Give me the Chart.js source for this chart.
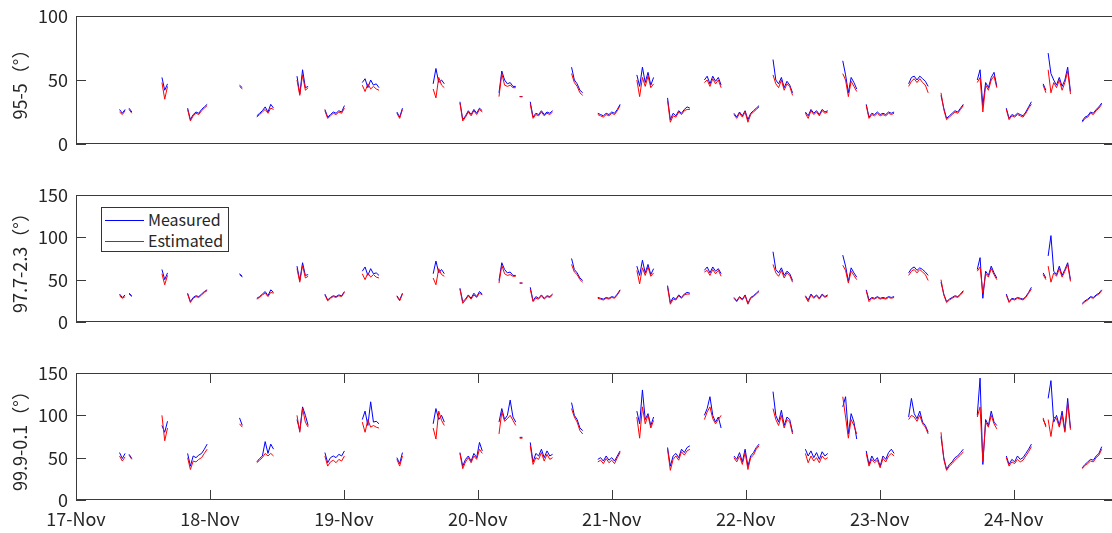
<!DOCTYPE html>
<html>
<head>
<meta charset="utf-8">
<script src="https://cdn.jsdelivr.net/npm/chart.js@4.4.1/dist/chart.umd.min.js"></script>
<style>
  html, body { margin: 0; padding: 0; background: #fff; }
  #wrap { position: relative; width: 1112px; height: 533px; overflow: hidden; }
  .panel { position: absolute; left: 0; width: 1114px; }
  #legend {
    position: absolute; left: 101px; top: 207px; width: 128px; height: 45px;
    box-sizing: border-box; border: 1px solid #333; background: #fff;
    font-family: "Noto Sans CJK JP", "Noto Sans", sans-serif; font-size: 16px; color: #262626;
  }
  #legend .row { position: absolute; left: 0; height: 20px; line-height: 20px; }
  #legend .ln { position: absolute; left: 3px; top: 10px; width: 39px; height: 1px; }
  #legend .tx { position: absolute; left: 46px; top: -1px; white-space: nowrap; }
</style>
</head>
<body>
<div id="wrap">
  <div class="panel" style="top:-3px;height:166px"><canvas id="c1"></canvas></div>
  <div class="panel" style="top:176px;height:165px"><canvas id="c2"></canvas></div>
  <div class="panel" style="top:354px;height:179px"><canvas id="c3"></canvas></div>
  <div id="legend">
    <div class="row" style="top:2px"><span class="ln" style="background:#0000ff"></span><span class="tx">Measured</span></div>
    <div class="row" style="top:23px"><span class="ln" style="background:#ff0000"></span><span class="tx">Estimated</span></div>
  </div>
</div>
<script>
// hours since 17-Nov 00:00, one value every half hour inside each segment
const stepH = 0.5;
const segStart = [7.8, 9.5, 15.4, 20.0, 29.3, 32.4, 39.6, 44.6, 51.3, 57.5, 64.0, 68.8, 75.8, 79.5, 81.4, 88.8,
  93.5, 100.5, 106.0, 112.6, 117.9, 124.9, 130.7, 137.4, 141.6, 149.2, 155.0, 161.5, 166.7, 173.3, 174.2, 180.3];
const dayLabels = ['17-Nov', '18-Nov', '19-Nov', '20-Nov', '21-Nov', '22-Nov', '23-Nov', '24-Nov'];

// 95-5
const p1Measured = [
  [27,24,27], [28,25], [52,42,47], [28,19,23,25,24,27,29,31], [46,44], [22,24,26,29,25,31,28], [53,39,58,44,45],
  [27,21,23,25,24,26,25,30], [48,51,44,50,46,47,44], [25,21,28], [47,59,48,50,47], [33,19,22,26,23,27,24,28,26],
  [40,57,50,47,48,45,45], [37,37], [33,21,24,23,26,23,25,24,26], [60,50,47,42,40], [24,23,22,24,23,25,24,27,31],
  [54,45,60,48,56,46,52], [36,19,24,22,26,24,27,29,28], [50,53,47,53,49,52,46], [24,21,25,22,26,19,24,26,28,30],
  [66,50,47,52,44,49,46,40], [25,22,27,24,26,23,27,25,26], [65,54,40,52,48,43], [31,21,24,23,25,23,24,23,25,24,25],
  [47,52,53,50,53,51,49,45], [38,28,20,22,24,26,25,28,31], [50,58,30,48,44,52,56,45], [28,20,23,22,24,23,22,25,29,33],
  [47,42], [71,55,50,46,52,45,50,60,41], [18,21,22,25,24,27,29,32]
];
const p1Estimated = [
  [25,23,26], [27,24], [48,35,45], [27,18,22,24,23,26,28,30], [45,43], [21,23,25,27,24,28,27], [50,38,54,42,44],
  [26,20,22,24,23,25,24,28], [46,41,47,43,45,43,42], [24,20,27], [43,36,52,46,44], [32,18,21,25,22,26,23,27,25],
  [37,55,46,45,46,44,44], [37,37], [31,20,23,22,25,22,24,23,25], [55,48,45,40,38], [23,22,21,23,22,24,23,26,30],
  [50,37,52,45,53,44,47], [34,17,22,21,25,23,26,27,27], [48,50,45,51,47,50,44], [23,20,24,21,25,17,23,25,27,29],
  [54,47,44,50,42,47,45,38], [24,20,26,23,25,22,26,24,25], [55,50,37,49,45,41], [30,20,23,22,24,22,23,22,24,23,24],
  [45,49,51,48,51,48,46,40], [40,27,19,21,23,25,24,27,30], [48,52,25,46,42,50,53,44], [27,19,22,21,23,22,21,24,28,31],
  [46,40], [58,40,48,44,50,42,48,57,39], [17,20,21,24,23,26,28,31]
];

// 97.7-2.3
const p2Measured = [
  [33,29,32], [34,31], [62,50,58], [34,24,29,31,30,33,36,38], [57,54], [28,30,33,36,31,38,35], [66,49,70,55,56],
  [33,26,29,31,30,32,31,36], [60,65,55,63,57,58,55], [31,26,34], [57,72,58,62,57], [40,24,27,32,28,34,30,36,33],
  [49,70,62,58,59,55,55], [46,46], [41,25,30,28,32,28,31,30,33], [75,62,58,52,49], [29,28,27,29,28,30,29,33,38],
  [66,55,73,58,68,56,63], [43,23,29,27,32,29,33,35,34], [61,65,58,65,60,63,57], [29,25,30,27,32,22,29,31,34,37],
  [83,62,58,64,55,60,57,49], [31,26,33,29,32,28,33,30,32], [79,66,48,64,58,53], [38,26,29,28,30,28,29,28,30,29,30],
  [58,63,65,61,64,62,59,55], [47,33,24,27,29,31,30,33,37], [62,76,28,60,55,66,58,52], [33,24,28,27,29,28,27,30,35,41],
  [58,52], [78,102,60,56,66,55,62,70,50], [22,25,27,30,29,32,34,38]
];
const p2Estimated = [
  [31,28,30], [33,30], [57,44,55], [33,23,28,30,29,32,35,37], [56,53], [27,29,32,34,30,35,34], [63,47,67,52,54],
  [32,25,28,30,29,31,30,35], [57,50,58,53,56,53,52], [30,25,33], [52,44,63,56,54], [39,22,26,31,27,32,29,34,32],
  [46,67,57,55,56,54,54], [46,46], [39,24,28,27,31,27,30,29,32], [68,59,56,50,47], [28,27,26,28,27,29,28,32,37],
  [61,45,64,55,65,54,58], [41,21,27,26,31,28,32,33,33], [59,61,55,62,57,61,54], [28,24,29,26,31,21,28,30,33,36],
  [68,58,54,61,52,58,55,47], [30,24,32,28,31,27,32,29,31], [67,61,46,60,55,50], [37,24,28,27,29,27,28,27,29,28,29],
  [55,60,62,58,62,59,56,49], [50,32,23,26,28,30,29,32,36], [60,65,34,57,53,63,56,50], [32,23,27,26,28,27,26,29,34,39],
  [56,50], [66,47,58,54,63,53,60,68,48], [21,24,26,29,28,31,33,37]
];

// 99.9-0.1
const p3Measured = [
  [56,49,55], [54,49], [88,80,93], [55,40,52,50,53,55,60,66], [97,88], [45,49,52,69,55,66,60], [95,82,110,100,88],
  [56,44,50,52,50,54,52,58], [95,105,88,116,92,93,90], [50,43,56], [90,108,95,100,92], [56,40,48,52,46,55,50,68,58],
  [92,108,95,100,118,98,92], [74,74], [68,45,55,52,60,50,58,52,54], [115,100,95,85,82], [48,50,46,52,47,50,46,52,58],
  [105,90,130,95,102,88,98], [62,40,52,55,50,60,56,62,64], [100,108,122,100,92,98,85], [52,48,56,45,60,40,52,56,62,66],
  [128,100,92,106,88,98,95,80], [60,52,58,50,56,48,57,52,55], [110,122,78,102,92,72], [58,42,52,46,50,40,52,48,56,60,55],
  [98,120,102,96,105,92,88,80], [75,50,36,42,45,50,52,56,60], [100,144,42,95,88,105,92,88], [52,42,48,45,52,48,50,55,60,66],
  [95,88], [120,141,92,100,88,105,82,120,85], [38,42,45,48,47,52,55,63]
];
const p3Estimated = [
  [52,46,51], [53,48], [100,70,85], [50,36,46,45,48,50,55,60], [90,86], [44,47,50,55,52,55,52], [100,80,108,92,86],
  [52,40,45,47,44,48,46,52], [92,80,95,86,88,86,85], [48,40,52], [85,72,105,94,88], [55,37,45,50,44,52,48,60,55],
  [78,104,93,96,100,94,88], [73,73], [64,42,50,48,56,46,54,48,50], [108,98,92,82,78], [45,47,43,49,44,47,43,50,56],
  [98,73,110,90,100,85,94], [60,35,48,52,47,57,53,58,60], [95,104,110,96,90,95,100], [50,45,52,42,56,36,50,53,60,64],
  [108,95,88,100,85,95,92,78], [55,44,52,46,50,44,52,48,50], [122,98,73,95,88,78], [55,40,48,44,47,38,49,45,52,55,52],
  [95,100,98,93,100,90,86,78], [80,48,35,40,43,47,50,53,57], [98,110,45,92,86,100,90,84], [50,40,45,43,48,45,47,52,57,63],
  [97,86], [95,75,98,96,86,100,80,114,83], [37,41,43,46,45,50,53,60]
];

Chart.defaults.font.family = '"Noto Sans CJK JP", "Noto Sans", sans-serif';
Chart.defaults.color = '#262626';

function toPoints(segs) {
  const pts = [];
  segs.forEach((vals, i) => {
    vals.forEach((v, j) => pts.push({x: segStart[i] + j * stepH, y: v}));
    pts.push({x: segStart[i] + vals.length * stepH, y: null}); // break the line
  });
  return pts;
}

// MATLAB style box with ticks pointing inwards
const boxPlugin = {
  id: 'box',
  afterDatasetsDraw(chart, args, opts) {
    const {ctx, chartArea: a, scales} = chart;
    ctx.save();
    ctx.strokeStyle = '#3a3a3a';
    ctx.lineWidth = 1;
    ctx.beginPath();
    scales.y.ticks.forEach(t => {
      const y = Math.round(scales.y.getPixelForValue(t.value)) + 0.5;
      ctx.moveTo(a.left, y); ctx.lineTo(a.left + 10, y);
      ctx.moveTo(a.right, y); ctx.lineTo(a.right - 10, y);
    });
    if (opts.xTicks) {
      scales.x.ticks.forEach(t => {
        const x = Math.round(scales.x.getPixelForValue(t.value)) + 0.5;
        ctx.moveTo(x, a.bottom); ctx.lineTo(x, a.bottom - 10);
        ctx.moveTo(x, a.top); ctx.lineTo(x, a.top + 10);
      });
    }
    ctx.stroke();
    ctx.strokeRect(Math.round(a.left) + 0.5, Math.round(a.top) + 0.5,
      Math.round(a.right - a.left), Math.round(a.bottom - a.top) - 1);
    ctx.restore();
  }
};

function makePanel(id, title, yMax, measured, estimated, showX) {
  new Chart(document.getElementById(id), {
    type: 'line',
    data: {
      datasets: [
        {label: 'Measured', data: toPoints(measured), borderColor: '#0000ff', borderWidth: 1, order: 2},
        {label: 'Estimated', data: toPoints(estimated), borderColor: '#ff0000', borderWidth: 1, order: 1}
      ]
    },
    options: {
      responsive: true,
      maintainAspectRatio: false,
      animation: false,
      elements: {point: {radius: 0}, line: {tension: 0}},
      layout: {padding: {top: 19, left: 0, right: 0, bottom: showX ? 0 : 19}},
      plugins: {legend: {display: false}, tooltip: {enabled: false}, box: {xTicks: showX}},
      scales: {
        x: {
          type: 'linear', min: 0, max: 186,
          display: showX,
          grid: {display: false, drawTicks: false},
          border: {display: false},
          afterBuildTicks: s => { s.ticks = dayLabels.map((d, i) => ({value: i * 24})); },
          afterFit: s => { s.height = showX ? 33 : 0; },
          ticks: {
            autoSkip: false, maxRotation: 0, padding: 8,
            font: {size: 18},
            callback: v => dayLabels[Math.round(v / 24)]
          }
        },
        y: {
          min: 0, max: yMax,
          grid: {display: false, drawTicks: false},
          border: {display: false},
          afterFit: s => { s.width = 76; },
          ticks: {stepSize: 50, padding: 8, font: {size: 18}},
          title: {display: true, text: title, font: {size: 18}, padding: {top: 9, bottom: 0}}
        }
      }
    },
    plugins: [boxPlugin]
  });
}

makePanel('c1', '95-5（°）', 100, p1Measured, p1Estimated, false);
makePanel('c2', '97.7-2.3（°）', 150, p2Measured, p2Estimated, false);
makePanel('c3', '99.9-0.1（°）', 150, p3Measured, p3Estimated, true);
</script>
</body>
</html>
